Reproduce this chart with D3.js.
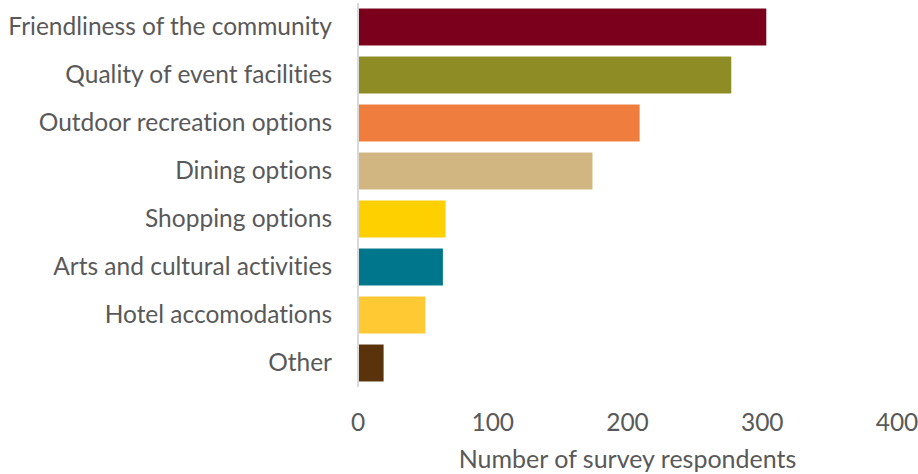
<!DOCTYPE html>
<html>
<head>
<meta charset="utf-8">
<script src="https://cdn.jsdelivr.net/npm/d3@7"></script>
<style>
  html, body { margin: 0; padding: 0; background: #fff; }
  svg { display: block; }
  text {
    font-family: Lato, "Open Sans", sans-serif;
    fill: #595959;
    font-variant-ligatures: none;
    font-feature-settings: "liga" 0, "clig" 0;
  }
</style>
</head>
<body>
<svg id="chart" width="918" height="474"></svg>
<script>
// Reasons respondents gave, top to bottom
const categories = [
  "Friendliness of the community",
  "Quality of event facilities",
  "Outdoor recreation options",
  "Dining options",
  "Shopping options",
  "Arts and cultural activities",
  "Hotel accomodations",
  "Other"
];
const respondents = [303, 277, 209, 174, 65, 63, 50, 19];
const barColors = ["#7b001c", "#8e8c25", "#ef7d3d", "#d2b681", "#ffd000", "#00768c", "#ffc933", "#5a320c"];
const xTicks = [0, 100, 200, 300, 400];
const xTitle = "Number of survey respondents";

(function () {
  const svg = d3.select("#chart");
  const plotLeft = 358, plotRight = 897, plotTop = 3, plotBottom = 387;
  const fontSize = "24.5px";

  const x = d3.scaleLinear().domain([0, 400]).range([plotLeft, plotRight]);
  const y = d3.scaleBand().domain(categories).range([plotTop, plotBottom])
    .paddingInner(0.23).paddingOuter(0.115);

  const rows = categories.map((c, i) => ({ c, v: respondents[i], col: barColors[i] }));

  // bars
  svg.append("g").selectAll("rect").data(rows).join("rect")
    .attr("x", x(0) + 1)
    .attr("y", d => y(d.c))
    .attr("width", d => x(d.v) - x(0) - 1)
    .attr("height", y.bandwidth())
    .attr("fill", d => d.col);

  // category axis line
  svg.append("line")
    .attr("x1", x(0)).attr("x2", x(0))
    .attr("y1", plotTop).attr("y2", plotBottom)
    .attr("stroke", "#d9d9d9").attr("stroke-width", 2);

  // category labels
  svg.append("g").selectAll("text").data(categories).join("text")
    .attr("x", 332)
    .attr("y", d => y(d) + y.bandwidth() / 2 + 8)
    .attr("text-anchor", "end")
    .style("font-size", fontSize)
    .text(d => d);

  // value axis labels
  svg.append("g").selectAll("text").data(xTicks).join("text")
    .attr("x", d => x(d))
    .attr("y", 431)
    .attr("text-anchor", "middle")
    .style("font-size", fontSize)
    .text(d => d);

  // value axis title
  svg.append("text")
    .attr("x", (plotLeft + plotRight) / 2)
    .attr("y", 468)
    .attr("text-anchor", "middle")
    .style("font-size", "25px")
    .text(xTitle);
})();
</script>
</body>
</html>
